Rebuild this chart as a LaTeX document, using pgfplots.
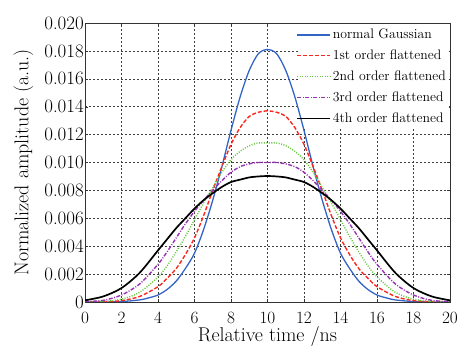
\documentclass[border=0pt]{standalone}
\usepackage{pgfplots}
\pgfplotsset{compat=1.18}
\definecolor{cblue}{RGB}{50,100,200}
\definecolor{cred}{RGB}{250,40,30}
\definecolor{cgreen}{RGB}{100,200,60}
\definecolor{cpurple}{RGB}{150,50,180}
\begin{document}
\begin{tikzpicture}
\begin{axis}[
  set layers,
  scale only axis,
  width=365bp, height=279bp,
  xmin=0, xmax=20, ymin=0, ymax=0.020,
  xtick={0,2,...,20},
  ytick={0,0.002,0.004,0.006,0.008,0.010,0.012,0.014,0.016,0.018,0.020},
  yticklabels={0,0.002,0.004,0.006,0.008,0.010,0.012,0.014,0.016,0.018,0.020},
  scaled y ticks=false,
  tick label style={font=\fontsize{19}{20}\selectfont},
  yticklabel style={anchor=east, inner sep=1bp},
  xticklabel style={anchor=north, inner sep=1bp, yshift=-9bp},
  grid=major,
  major grid style={black!75, dash pattern=on 2pt off 2pt, line width=0.5pt},
  axis line style={black!80, line width=0.8pt},
  major tick length=3bp,
  tick style={black!80},
  xlabel={Relative time /ns},
  ylabel={Normalized amplitude (a.u.)},
  label style={font=\fontsize{20}{22}\selectfont},
  xlabel style={at={(axis description cs:0.5,0)}, anchor=north, yshift=-21bp},
  ylabel style={at={(axis description cs:0,0.5)}, anchor=south, yshift=48bp},
  legend cell align=left,
  legend style={at={(axis description cs:1,1)}, anchor=north east, xshift=0bp, yshift=-1bp, draw=none, fill=none,
    font=\fontsize{13.8}{15}\selectfont, row sep=5.8bp, inner xsep=2bp, inner ysep=3bp},
  legend image code/.code={\draw[#1, line width=1.5pt] (0bp,0bp) -- (33bp,0bp);},
]
\begin{pgfonlayer}{axis ticks}
\fill[white] (rel axis cs:0.5890,0.622) rectangle (rel axis cs:0.998,0.997);
\end{pgfonlayer}
\addplot[cblue, line width=1.3pt, smooth] coordinates {
(0,0) (1,0) (2,0.00003) (3,0.00015) (3.5,0.0003) (4,0.0005) (4.5,0.0009) (5,0.0015) (5.5,0.0024) (6,0.0035) (6.5,0.0052) (7,0.0073) (7.5,0.0097) (8,0.0123) (8.5,0.0147) (9,0.0166) (9.5,0.0178) (10,0.0181)
(10.5,0.0178) (11,0.0166) (11.5,0.0147) (12,0.0123) (12.5,0.0097) (13,0.0073) (13.5,0.0052) (14,0.0035) (14.5,0.0024) (15,0.0015) (15.5,0.0009) (16,0.0005) (16.5,0.0003) (17,0.00015) (18,0.00003) (19,0) (20,0)};
\addlegendentry{normal Gaussian}
\addplot[cred, line width=1.4pt, dash pattern=on 4pt off 2pt, smooth] coordinates {
(0,0) (1,0.00002) (2,0.0001) (3,0.0004) (4,0.0011) (4.5,0.0017) (5,0.0024) (5.5,0.0034) (6,0.0046) (6.5,0.0062) (7,0.0080) (7.5,0.0097) (8,0.0113) (8.5,0.0125) (9,0.0133) (9.5,0.0136) (10,0.0137)
(10.5,0.0136) (11,0.0133) (11.5,0.0125) (12,0.0113) (12.5,0.0097) (13,0.0080) (13.5,0.0062) (14,0.0046) (14.5,0.0034) (15,0.0024) (15.5,0.0017) (16,0.0011) (17,0.0004) (18,0.0001) (19,0.00002) (20,0)};
\addlegendentry{1st order flattened}
\addplot[cgreen, line width=1.4pt, dash pattern=on 1pt off 1.5pt, smooth] coordinates {
(0,0.00001) (1,0.00005) (2,0.0002) (3,0.0007) (4,0.0018) (4.5,0.0026) (5,0.0036) (5.5,0.0047) (6,0.0059) (6.5,0.0071) (7,0.0082) (7.5,0.0093) (8,0.0102) (8.5,0.0108) (9,0.0112) (9.5,0.0114) (10,0.0114)
(10.5,0.0114) (11,0.0112) (11.5,0.0108) (12,0.0102) (12.5,0.0093) (13,0.0082) (13.5,0.0071) (14,0.0059) (14.5,0.0047) (15,0.0036) (15.5,0.0026) (16,0.0018) (17,0.0007) (18,0.0002) (19,0.00005) (20,0.00001)};
\addlegendentry{2nd order flattened}
\addplot[cpurple, line width=1.4pt, dash pattern=on 4pt off 1.5pt on 1pt off 1.5pt, smooth] coordinates {
(0,0.00003) (1,0.00012) (2,0.0005) (3,0.0013) (4,0.0027) (4.5,0.0036) (5,0.0046) (5.5,0.0056) (6,0.0065) (6.5,0.0073) (7,0.0080) (7.5,0.0087) (8,0.0093) (8.5,0.0097) (9,0.0099) (9.5,0.0100) (10,0.0100)
(10.5,0.0100) (11,0.0099) (11.5,0.0097) (12,0.0093) (12.5,0.0087) (13,0.0080) (13.5,0.0073) (14,0.0065) (14.5,0.0056) (15,0.0046) (15.5,0.0036) (16,0.0027) (17,0.0013) (18,0.0005) (19,0.00012) (20,0.00003)};
\addlegendentry{3rd order flattened}
\addplot[black, line width=1.7pt, smooth] coordinates {
(0,0.00012) (1,0.0004) (2,0.0010) (3,0.0021) (4,0.0037) (4.5,0.0045) (5,0.0053) (5.5,0.0060) (6,0.0067) (6.5,0.0073) (7,0.0078) (7.5,0.00825) (8,0.0086) (8.5,0.00877) (9,0.00893) (9.5,0.00900) (10,0.00903)
(10.5,0.00900) (11,0.00893) (11.5,0.00877) (12,0.0086) (12.5,0.00825) (13,0.0078) (13.5,0.0073) (14,0.0067) (14.5,0.0060) (15,0.0053) (15.5,0.0045) (16,0.0037) (17,0.0021) (18,0.0010) (19,0.0004) (20,0.00012)};
\addlegendentry{4th order flattened}
\end{axis}
\pgfresetboundingbox
\path (-85bp,-44bp) rectangle (376bp,302bp);
\end{tikzpicture}
\end{document}
